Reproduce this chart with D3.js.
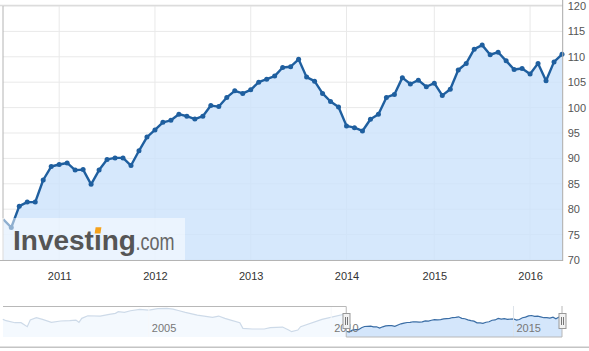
<!DOCTYPE html>
<html><head><meta charset="utf-8">
<script src="https://cdn.jsdelivr.net/npm/d3@7"></script>
<style>body{margin:0;background:#fff}svg{display:block;font-family:"Liberation Sans",Arial,sans-serif}</style>
</head><body><svg id="c" width="589" height="351"></svg>
<script>
// ---------- data ----------
const mainDates = [
"2010-06","2010-07","2010-08","2010-09","2010-10","2010-11","2010-12",
"2011-01","2011-02","2011-03","2011-04","2011-05","2011-06","2011-07","2011-08","2011-09","2011-10","2011-11","2011-12",
"2012-01","2012-02","2012-03","2012-04","2012-05","2012-06","2012-07","2012-08","2012-09","2012-10","2012-11","2012-12",
"2013-01","2013-02","2013-03","2013-04","2013-05","2013-06","2013-07","2013-08","2013-09","2013-10","2013-11","2013-12",
"2014-01","2014-02","2014-03","2014-04","2014-05","2014-06","2014-07","2014-08","2014-09","2014-10","2014-11",
"2015-01","2015-02","2015-03","2015-04","2015-05","2015-06","2015-07","2015-08","2015-09","2015-10","2015-11","2015-12",
"2016-01","2016-02","2016-03","2016-04","2016-05"];
const mainValues = [
78.0,76.4,80.6,81.4,81.4,85.75,88.4,
88.8,89.1,87.7,87.8,84.9,87.7,89.8,90.1,90.1,88.6,91.5,94.2,
95.6,97.1,97.5,98.7,98.3,97.75,98.3,100.4,100.2,102.0,103.3,102.8,
103.5,105.0,105.6,106.2,107.9,108.05,109.5,106.0,105.2,102.8,101.2,100.1,
96.4,96.05,95.4,97.7,98.7,102.0,102.6,105.9,104.65,105.4,104.1,
104.8,102.4,103.6,107.4,108.7,111.5,112.3,110.4,110.9,109.2,107.5,107.7,
106.6,108.7,105.3,109.0,110.5];
// navigator history before the selected range
const navDates = ["2001-01","2001-02","2001-05","2001-07","2001-09","2001-10","2001-12",
"2002-02","2002-05","2002-08","2002-11","2003-01","2003-02","2003-03","2003-05","2003-09","2003-12",
"2004-02","2004-03","2004-05","2004-07","2004-10","2005-01","2005-04","2005-07","2005-09","2005-11",
"2006-01","2006-05","2006-10","2006-12","2007-02","2007-04","2007-07","2007-08","2007-11",
"2008-03","2008-05","2008-09","2008-11","2008-12","2009-02","2009-03","2009-10","2010-05"];
const navValues = [103.9,101.0,96.6,96.6,87.9,102.4,107.5,
103.9,97.4,100.3,101.0,102.4,97.4,106.1,111.8,111.1,114.8,
116.9,120.5,119.1,122.7,125.6,124.2,127.1,127.8,126.3,122.7,
119.1,113.3,108.2,111.1,106.1,102.4,96.6,84.3,82.9,
82.9,85.8,87.2,80.7,77.1,80.7,87.9,103.9,114.8];
const yTicks = [70,75,80,85,90,95,100,105,110,115,120];
const yearLabels = ["2011","2012","2013","2014","2015","2016"];
const navYearLabels = ["2005","2010","2015"];

// ---------- layout ----------
const svg = d3.select("#c");
const L = 3, R = 562.7, T = 6, B = 260;
const x = d3.scalePoint().domain(mainDates).range([3.3, 562]).padding(0);
const y = d3.scaleLinear().domain([70, 120]).range([B, T]);
const tickDates = yearLabels.map(d => d + "-01");

// gridlines
svg.append("g").selectAll("line").data(yTicks).join("line")
  .attr("x1", L).attr("x2", R).attr("y1", d => y(d)).attr("y2", d => y(d))
  .attr("stroke", "#e9e9e9").attr("stroke-width", 1);
svg.append("g").selectAll("line").data(tickDates).join("line")
  .attr("x1", d => x(d)).attr("x2", d => x(d)).attr("y1", T).attr("y2", B)
  .attr("stroke", "#e9e9e9").attr("stroke-width", 1);

const data = mainDates.map((d, i) => ({d, v: mainValues[i]}));
svg.append("defs").append("clipPath").attr("id", "pc")
  .append("rect").attr("x", L).attr("y", 0).attr("width", R - L).attr("height", B);

const area = d3.area().x(p => x(p.d)).y0(B).y1(p => y(p.v));
svg.append("path").datum(data).attr("d", area)
  .attr("fill", "#cce2fb").attr("fill-opacity", 0.8).attr("clip-path", "url(#pc)");
const line = d3.line().x(p => x(p.d)).y(p => y(p.v));
svg.append("path").datum(data).attr("d", line)
  .attr("fill", "none").attr("stroke", "#1f5f9f").attr("stroke-width", 2.4)
  .attr("stroke-linejoin", "round").attr("clip-path", "url(#pc)");
svg.append("g").selectAll("circle").data(data.slice(1)).join("circle")
  .attr("cx", p => x(p.d)).attr("cy", p => y(p.v)).attr("r", 2.5).attr("fill", "#1f5f9f");

// frame
svg.append("line").attr("x1", 0).attr("x2", R).attr("y1", 5.5).attr("y2", 5.5)
  .attr("stroke", "#dcdcdc").attr("stroke-width", 1.6);
svg.append("line").attr("x1", L).attr("x2", L).attr("y1", T).attr("y2", B)
  .attr("stroke", "#b4b4b4").attr("stroke-width", 1);
svg.append("line").attr("x1", 0).attr("x2", R).attr("y1", B + 0.5).attr("y2", B + 0.5)
  .attr("stroke", "#b4b4b4").attr("stroke-width", 1);
svg.append("line").attr("x1", R).attr("x2", R).attr("y1", 0).attr("y2", B + 1)
  .attr("stroke", "#a8a8a8").attr("stroke-width", 1);

// logo
const logo = svg.append("g");
logo.append("rect").attr("x", 0).attr("y", 218).attr("width", 185).attr("height", B - 218)
  .attr("fill", "#fff").attr("fill-opacity", 0.5);
const inv = logo.append("text").attr("x", 13).attr("y", 250).attr("font-size", 28)
  .attr("font-weight", "bold").attr("fill", "#555").text("Investing");
logo.append("text").attr("x", 135.5).attr("y", 250).attr("font-size", 24)
  .attr("textLength", 39).attr("lengthAdjust", "spacingAndGlyphs")
  .attr("fill", "#666").text(".com");
const n = inv.node();
const sx = 13 + n.getSubStringLength(0, 6), iw = n.getSubStringLength(6, 1);
const cx = sx + iw / 2;
logo.append("polygon")
  .attr("points", [[cx - 2.2, 227.3], [cx + 3.6, 227.3], [cx + 2.6, 233.6], [cx - 3.2, 233.6]].map(p => p.join(",")).join(" "))
  .attr("fill", "#f5a21c");

// axes
const ya = svg.append("g").attr("transform", `translate(${R},0)`)
  .call(d3.axisRight(y).tickValues(yTicks).tickSize(0).tickPadding(5));
ya.select(".domain").remove();
ya.selectAll("text").attr("font-size", 11).attr("fill", "#555").attr("font-family", "Liberation Sans, Arial, sans-serif");

const xa = svg.append("g").attr("transform", `translate(0,${B})`)
  .call(d3.axisBottom(x).tickValues(tickDates).tickFormat(d => d.slice(0, 4)).tickSize(0));
xa.select(".domain").remove();
xa.selectAll("text").attr("y", 19.5).attr("dy", 0).attr("font-size", 11).attr("fill", "#333")
  .attr("font-family", "Liberation Sans, Arial, sans-serif");

// ---------- navigator ----------
const parse = d3.timeParse("%Y-%m");
const NT = 306, NB = 337;
const xn = d3.scaleTime().domain([parse("2001-01"), parse("2016-05")]).range([3, 562]);
const yn = d3.scaleLinear().domain([65.5, 133]).range([NB, NT]);
const navAll = navDates.map((d, i) => ({t: parse(d), v: navValues[i]}))
  .concat(mainDates.map((d, i) => ({t: parse(d), v: mainValues[i]})));
const nArea = d3.area().x(p => xn(p.t)).y0(NB).y1(p => yn(p.v));
const nLine = d3.line().x(p => xn(p.t)).y(p => yn(p.v));
svg.append("path").datum(navAll).attr("d", nArea).attr("fill", "#d4e6fb");
svg.append("path").datum(navAll).attr("d", nLine).attr("fill", "none")
  .attr("stroke", "#3a6da5").attr("stroke-width", 1.2);
svg.append("g").selectAll("line").data(navYearLabels).join("line")
  .attr("x1", d => xn(parse(d + "-01"))).attr("x2", d => xn(parse(d + "-01")))
  .attr("y1", NT).attr("y2", NB).attr("stroke", "#dde3ea").attr("stroke-width", 1);

const s0 = xn(parse(mainDates[0])), s1 = xn(parse(mainDates[mainDates.length - 1]));
svg.append("rect").attr("x", 3).attr("y", NT).attr("width", s0 - 3).attr("height", NB - NT)
  .attr("fill", "#fff").attr("fill-opacity", 0.75);
svg.append("path")
  .attr("d", `M3,${NT + 0.5}H${s0}V${NB}H${s1}V${NT}`)
  .attr("fill", "none").attr("stroke", "#b8b8b8").attr("stroke-width", 1);

svg.append("g").selectAll("text").data(navYearLabels).join("text")
  .attr("x", d => xn(parse(d + "-01")) + 3).attr("y", 332.3)
  .attr("font-size", 11).attr("fill", "#777").text(d => d);

[s0, s1].forEach(h => {
  const g = svg.append("g").attr("transform", `translate(${Math.round(h) + 0.5},0)`);
  g.append("rect").attr("x", -3.5).attr("y", 313.5).attr("width", 7).attr("height", 15)
    .attr("fill", "#f2f2f2").attr("stroke", "#999").attr("stroke-width", 1);
  g.append("line").attr("x1", -1).attr("x2", -1).attr("y1", 317).attr("y2", 325).attr("stroke", "#777");
  g.append("line").attr("x1", 1).attr("x2", 1).attr("y1", 317).attr("y2", 325).attr("stroke", "#777");
});

svg.append("line").attr("x1", 0).attr("x2", 589).attr("y1", 347.3).attr("y2", 347.3)
  .attr("stroke", "#c4c4c4").attr("stroke-width", 1.5);
</script></body></html>
